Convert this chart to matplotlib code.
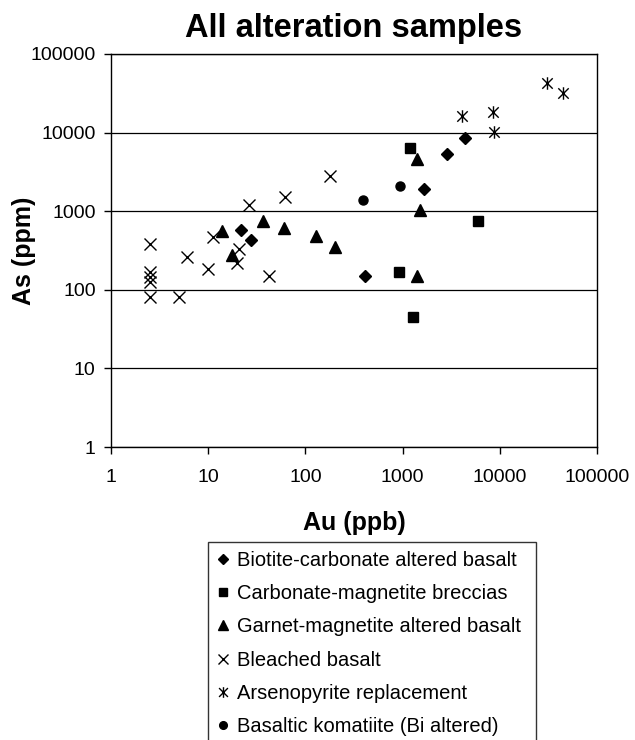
import matplotlib
matplotlib.use('Agg')
import matplotlib.pyplot as plt
from matplotlib.path import Path
import numpy as np

plt.rcParams['font.family'] = ['Liberation Sans', 'DejaVu Sans']

# data (Au in ppb, As in ppm)
biotite_au = [21.9, 27.6, 406, 1645, 2840, 4350]
biotite_as = [577, 429, 150, 1940, 5380, 8510]

carb_au = [1180, 5970, 916, 1280]
carb_as = [6340, 747, 166, 44.6]

garnet_au = [14, 17.5, 36.3, 59.7, 128, 200, 1405, 1497, 1405]
garnet_as = [564, 275, 753, 617, 487, 351, 4640, 1050, 150]

bleached_au = [2.5, 2.5, 2.5, 2.5, 2.5, 5, 6.1, 9.9, 11.1, 20, 20.9, 26, 42.5, 62, 177]
bleached_as = [385, 170, 145, 125, 82, 80, 265, 185, 470, 218, 335, 1200, 152, 1510, 2800]

arseno_au = [30700, 44300, 4060, 8530, 8730]
arseno_as = [42900, 31600, 16300, 18300, 10200]

komat_au = [396, 947]
komat_as = [1380, 2070]

names = ['Biotite-carbonate altered basalt',
         'Carbonate-magnetite breccias',
         'Garnet-magnetite altered basalt',
         'Bleached basalt',
         'Arsenopyrite replacement',
         'Basaltic komatiite (Bi altered)']

decades = [1, 10, 100, 1000, 10000, 100000]
decade_labels = ['1', '10', '100', '1000', '10000', '100000']

# excel style asterisk: an x with a vertical bar through it
star = Path([(-0.5, -0.5), (0.5, 0.5), (-0.5, 0.5), (0.5, -0.5), (0, -0.6), (0, 0.6)],
            [Path.MOVETO, Path.LINETO, Path.MOVETO, Path.LINETO, Path.MOVETO, Path.LINETO])

fig = plt.figure(figsize=(6.35, 7.4), dpi=100)
ax = fig.add_axes([111/635., 1-447/740., (597-111)/635., (447-54)/740.])

ax.plot(biotite_au, biotite_as, 'D', color='black', ms=6.5, ls='none', label=names[0])
ax.plot(carb_au, carb_as, 's', color='black', ms=6.5, ls='none', label=names[1])
ax.plot(garnet_au, garnet_as, '^', color='black', ms=8, ls='none', label=names[2])
ax.plot(bleached_au, bleached_as, 'x', color='black', ms=8, mew=1.0, ls='none', label=names[3])
ax.plot(arseno_au, arseno_as, marker=star, color='black', mfc='none', ms=9, mew=1.0, ls='none', label=names[4])
ax.plot(komat_au, komat_as, 'o', color='black', ms=6.5, ls='none', label=names[5])

ax.set_xscale('log')
ax.set_yscale('log')
ax.set_xlim(1, 100000)
ax.set_ylim(1, 100000)
ax.set_xticks(decades)
ax.set_xticklabels(decade_labels)
ax.set_yticks(decades)
ax.set_yticklabels(decade_labels)
ax.minorticks_off()
ax.tick_params(direction='out', length=5, width=1, labelsize=14, colors='black')
ax.tick_params(axis='x', pad=11)
ax.tick_params(axis='y', pad=6)

ax.yaxis.grid(True, color='black', lw=0.9)
ax.set_axisbelow(True)
for s in ax.spines.values():
    s.set_linewidth(1.0)
    s.set_color('black')

ax.set_title('All alteration samples', fontsize=23.5, fontweight='bold', pad=12)
ax.set_xlabel('Au (ppb)', fontsize=18, fontweight='bold', labelpad=18)
ax.set_ylabel('As (ppm)', fontsize=18, fontweight='bold', labelpad=-4)

leg = fig.legend(loc='upper left', mode='expand',
                 bbox_to_anchor=(208/635., 0, 328/635., 1-541.7/740.),
                 fontsize=14.5, frameon=True, fancybox=False, borderaxespad=0,
                 handlelength=0.6, handletextpad=0.4, labelspacing=0.71,
                 borderpad=0.45, markerscale=0.85)
leg.get_frame().set_edgecolor('black')
leg.get_frame().set_linewidth(1.0)

fig.savefig('out.png', dpi=100)
